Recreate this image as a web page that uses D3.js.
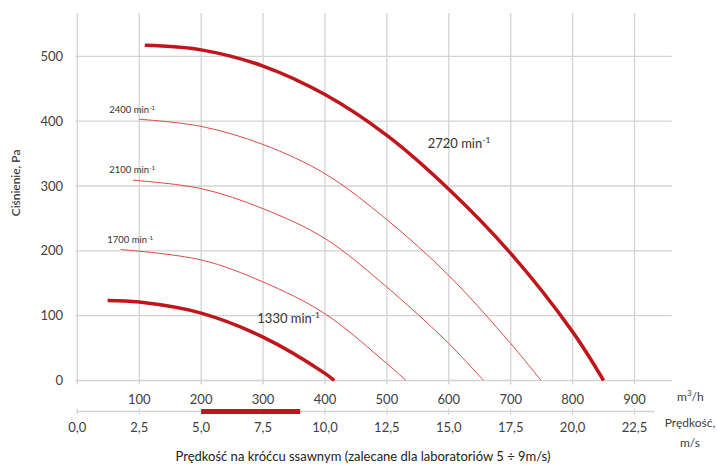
<!DOCTYPE html>
<html><head><meta charset="utf-8">
<script src="https://cdn.jsdelivr.net/npm/d3@7"></script>
<style>
body{margin:0;background:#fff;}
svg{display:block;font-family:Lato,"Open Sans",sans-serif;}
</style></head>
<body>
<svg id="c" width="717" height="467"></svg>
<script>
// ---- data ----
const flowTicks = [100,200,300,400,500,600,700,800,900];
const velTicks = [0,2.5,5,7.5,10,12.5,15,17.5,20,22.5];
const pressTicks = [0,100,200,300,400,500];
const recommendedVel = [5,9];

const flow2720 = [109,200,300,400,500,600,700,800,850];
const press2720 = [517,510,485,441,378,295,196,75,0];
const flow2400 = [100,200,300,400,500,600,700,749];
const press2400 = [403,392,364,319,248,162,57,0];
const flow2100 = [90,200,300,400,500,600,656];
const press2100 = [309,296,265,219,144,57,0];
const flow1700 = [70,200,300,400,500,531];
const press1700 = [202,186,152,103,26,0];
const flow1330 = [49,100,200,300,400,415];
const press1330 = [123.5,121,104,67,11,0];

const curves = [
  {rpm:"2720", flow:flow2720, press:press2720, thick:true},
  {rpm:"2400", flow:flow2400, press:press2400, thick:false},
  {rpm:"2100", flow:flow2100, press:press2100, thick:false},
  {rpm:"1700", flow:flow1700, press:press1700, thick:false},
  {rpm:"1330", flow:flow1330, press:press1330, thick:true}
];

// ---- layout ----
const svg = d3.select("#c");
const x = d3.scaleLinear().domain([0,960]).range([77.3,671.7]);
const y = d3.scaleLinear().domain([0,567]).range([380.5,12.9]);
const v = d3.scaleLinear().domain([0,24]).range([x(0),x(960)]);
const gridC = "#d3d3d3", textC = "#404040", red = "#c0161b", thinRed = "#d94a45";

const g = svg.append("g");
// vertical gridlines
g.selectAll(".vg").data([0].concat(flowTicks)).join("line")
  .attr("x1",d=>x(d)).attr("x2",d=>x(d)).attr("y1",y(567)).attr("y2",y(0)+4)
  .attr("stroke",gridC).attr("stroke-width",1.3);
// horizontal gridlines
g.selectAll(".hg").data(pressTicks).join("line")
  .attr("x1",x(0)-2).attr("x2",x(960)).attr("y1",d=>y(d)).attr("y2",d=>y(d))
  .attr("stroke",gridC).attr("stroke-width",1.3);
// y labels
g.selectAll(".yl").data(pressTicks).join("text")
  .attr("x",63).attr("y",d=>y(d)+4.5).attr("text-anchor","end")
  .attr("font-size",13).attr("fill",textC).text(d=>d);
// flow labels
g.selectAll(".fl").data(flowTicks).join("text")
  .attr("x",d=>x(d)).attr("y",404).attr("text-anchor","middle")
  .attr("font-size",13).attr("fill",textC).text(d=>d);
// velocity axis
const vy = 411.5;
g.append("line").attr("x1",v(0)).attr("x2",v(23.3)).attr("y1",vy).attr("y2",vy)
  .attr("stroke",gridC).attr("stroke-width",1.3);
g.selectAll(".vt").data(velTicks).join("line")
  .attr("x1",d=>v(d)).attr("x2",d=>v(d)).attr("y1",vy-3).attr("y2",vy+3)
  .attr("stroke",gridC).attr("stroke-width",1.3);
g.append("line").attr("x1",v(recommendedVel[0])).attr("x2",v(recommendedVel[1]))
  .attr("y1",vy).attr("y2",vy).attr("stroke",red).attr("stroke-width",5);
g.selectAll(".vl").data(velTicks).join("text")
  .attr("x",d=>v(d)).attr("y",432).attr("text-anchor","middle")
  .attr("font-size",13).attr("fill",textC).text(d=>d.toFixed(1).replace(".",","));

// unit labels
const mh = g.append("text").attr("x",677).attr("y",401).attr("font-size",12).attr("fill",textC);
mh.append("tspan").text("m");
mh.append("tspan").attr("dy",-5).attr("font-size",8).text("3");
mh.append("tspan").attr("dy",5).text("/h");
g.append("text").attr("x",690).attr("y",427).attr("text-anchor","middle").attr("font-size",12).attr("fill",textC).text("Prędkość,");
g.append("text").attr("x",690).attr("y",447).attr("text-anchor","middle").attr("font-size",12).attr("fill",textC).text("m/s");

// axis titles
g.append("text").attr("x",363).attr("y",461).attr("text-anchor","middle").attr("font-size",13).attr("fill","#222")
  .text("Prędkość na króćcu ssawnym (zalecane dla laboratoriów 5 ÷ 9m/s)");
g.append("text").attr("transform","translate(20,183) rotate(-90)").attr("text-anchor","middle")
  .attr("font-size",12).attr("fill","#222").text("Ciśnienie, Pa");

// curves
const line = d3.line().x(d=>x(d[0])).y(d=>y(d[1])).curve(d3.curveCatmullRom.alpha(0.5));
g.selectAll(".curve").data(curves).join("path")
  .attr("d",c=>line(c.flow.map((f,i)=>[f,c.press[i]])))
  .attr("fill","none").attr("stroke",c=>c.thick?red:thinRed)
  .attr("stroke-width",c=>c.thick?3.5:1);

// curve labels
function rpmLabel(txt, px, py, fs){
  const t = g.append("text").attr("x",px).attr("y",py).attr("font-size",fs).attr("fill","#333");
  t.append("tspan").text(txt+" min");
  t.append("tspan").attr("dy",-fs*0.4).attr("font-size",fs*0.65).text("-1");
}
rpmLabel("2720",427.7,148,13);
rpmLabel("1330",257.3,323.3,13);
rpmLabel("2400",109.3,113.3,9.5);
rpmLabel("2100",109.3,173.3,9.5);
rpmLabel("1700",107.3,243.3,9.5);
</script>
</body></html>
